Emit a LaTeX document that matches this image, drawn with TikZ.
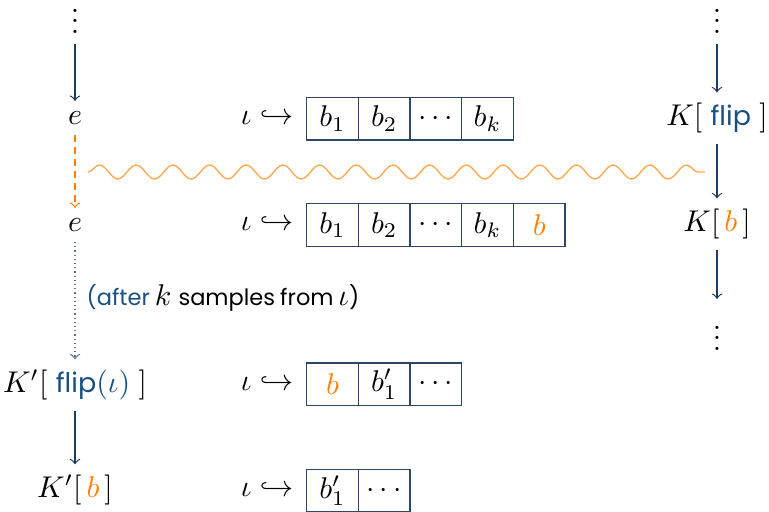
\documentclass[tikz,border=0pt]{standalone}
\usepackage{fontspec}
\usetikzlibrary{decorations.pathmorphing}
\newfontfamily\gsans{Poppins}[Scale=0.9]
\newfontfamily\gsanss{Poppins}[Scale=0.75,WordSpace=0.85]
\definecolor{navy}{RGB}{31,58,95}
\definecolor{fb}{RGB}{25,80,130}
\definecolor{boxc}{RGB}{45,70,100}
\definecolor{orng}{RGB}{255,128,0}
\definecolor{wavec}{RGB}{255,168,80}
\newcommand{\flipw}{{\color{fb}\gsans flip}}
\newcommand{\mydots}{\vbox{\baselineskip3.5pt\lineskiplimit0pt\hbox{.}\hbox{.}\hbox{.}}}
\begin{document}
\begin{tikzpicture}[x=0.3333pt,y=-0.3333pt,
  arr/.style={->,draw=navy,line width=0.4pt},
  cell/.style={draw=boxc,line width=0.45pt,minimum width=17.22pt,minimum height=14.2pt,inner sep=0pt,outer sep=0pt},
  dotn/.style={inner sep=0pt,outer sep=3.5pt}]
\useasboundingbox (0,0) rectangle (769,511);
% left column
\node[dotn] (dl) at (75,21) {\mydots};
\node (e1) at (75,118) {$e$};
\node (e2) at (75,225) {$e$};
\node (kpf) at (75,385) {$K'[\;\mbox{\color{fb}\gsans flip$(\iota)$}\;]$};
\node (kpb) at (75,490) {$K'[\,{\color{orng}b}\,]$};
\draw[arr] (dl) -- (e1);
\draw[->,draw=orng,dash pattern=on 2.2pt off 1.8pt] (e1) -- (e2);
\draw[->,draw=navy!70,densely dotted] (e2) -- (kpf);
\draw[arr] (kpf) -- (kpb);
\node[anchor=west] (after) at (76,298) {{\gsanss\color{fb}(after}\hspace{1.6pt}$k$\hspace{2.4pt}{\gsanss samples from}\hspace{1.6pt}$\iota${\gsanss )}};
% right column
\node[dotn] (dr) at (717,21) {\mydots};
\node (kf) at (717,118) {$K[\;\mbox{\flipw}\;]$};
\node (kb) at (717,224) {$K[\,{\color{orng}b}\,]$};
\coordinate (kend) at (717,299);
\node[dotn] (dr2) at (717,338) {\mydots};
\draw[arr] (dr) -- (kf);
\draw[arr] (kf) -- (kb);
\draw[arr] (kb) -- (kend);
% wave
\coordinate (w1) at (88,172);
\coordinate (w2) at (705,172);
\draw[wavec,line width=0.45pt,decorate,decoration={snake,segment length=12.23pt,amplitude=2.33pt}] (w1) -- (w2);
% row 1
\node (i1) at (267,118) {$\iota\hookrightarrow$};
\node[cell] (a1) at (332.5,118.7) {$b_1$};
\node[cell] (a2) at (384.2,118.7) {$b_2$};
\node[cell] (a3) at (435.8,118.7) {$\cdots$};
\node[cell] (a4) at (487.5,118.7) {$b_k$};
% row 2
\node (i2) at (267,224) {$\iota\hookrightarrow$};
\node[cell] (c1) at (332.5,225) {$b_1$};
\node[cell] (c2) at (384.2,225) {$b_2$};
\node[cell] (c3) at (435.8,225) {$\cdots$};
\node[cell] (c4) at (487.5,225) {$b_k$};
\node[cell] (c5) at (539.2,225) {$\color{orng}b$};
% row 3
\node (i3) at (267,384) {$\iota\hookrightarrow$};
\node[cell] (d1) at (332.5,384.2) {$\color{orng}b$};
\node[cell] (d2) at (384.2,384.2) {$b'_1$};
\node[cell] (d3) at (435.8,384.2) {$\cdots$};
% row 4
\node (i4) at (267,490) {$\iota\hookrightarrow$};
\node[cell] (f1) at (332.5,490.5) {$b'_1$};
\node[cell] (f2) at (384.2,490.5) {$\cdots$};
\end{tikzpicture}
\end{document}
